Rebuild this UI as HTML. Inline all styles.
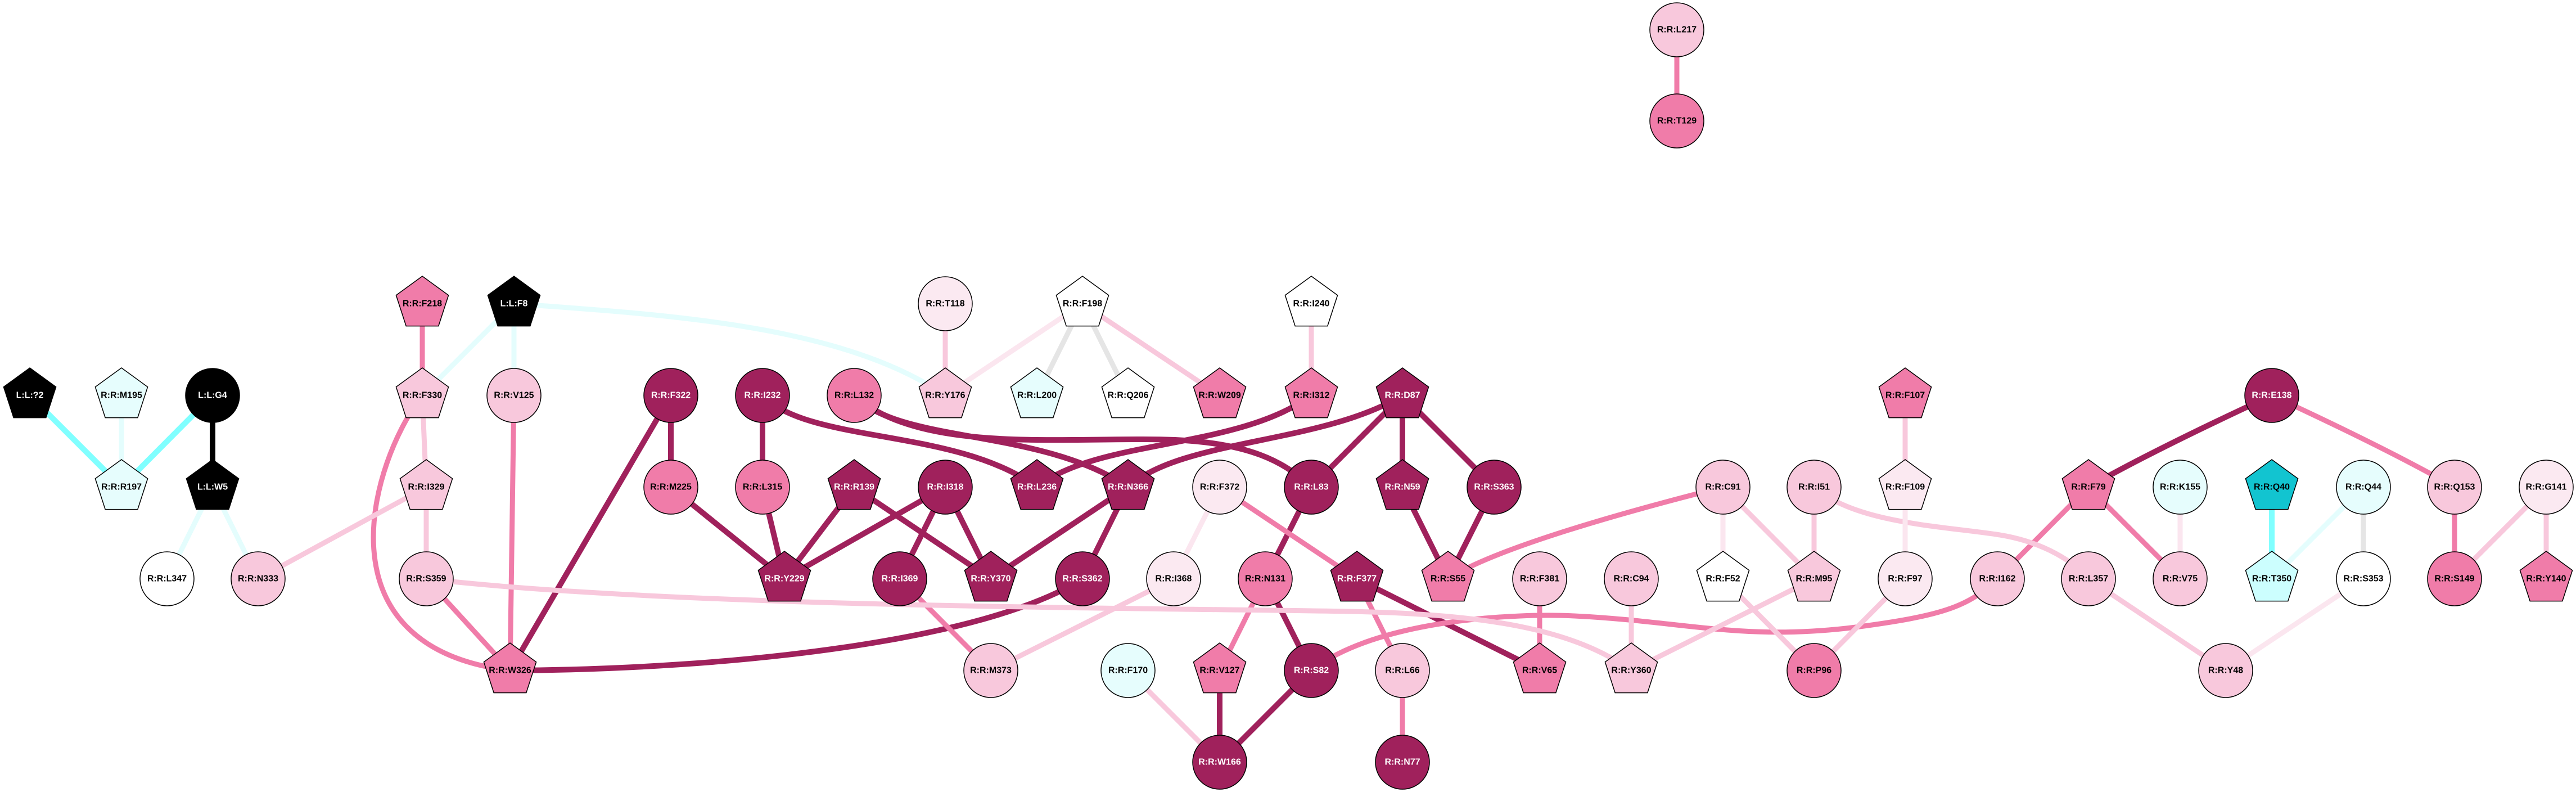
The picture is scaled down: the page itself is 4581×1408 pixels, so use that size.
<!DOCTYPE html>
<html><head><meta charset="utf-8"><style>
html,body{margin:0;padding:0;background:#fff;}
svg{display:block;}
text{font-family:"Liberation Sans",Arial,sans-serif;font-weight:bold;font-size:16px;text-anchor:middle;dominant-baseline:central;}
</style></head><body>
<svg width="4581" height="1408" viewBox="0 0 4581 1408" xmlns="http://www.w3.org/2000/svg">
<g fill="none" stroke-linecap="butt">
<!-- dark edges -->
<g stroke="#a0215c" stroke-width="10">
<line x1="1193" y1="703" x2="1193" y2="866"/>
<line x1="1193" y1="703" x2="907" y2="1192"/>
<line x1="1193" y1="866" x2="1395" y2="1029"/>
<line x1="1356" y1="703" x2="1356" y2="866"/>
<line x1="1356" y1="866" x2="1395" y2="1029"/>
<line x1="1519" y1="866" x2="1395" y2="1029"/>
<line x1="1681" y1="866" x2="1395" y2="1029"/>
<line x1="1519" y1="866" x2="1762" y2="1029"/>
<line x1="1681" y1="866" x2="1600" y2="1029"/>
<line x1="1681" y1="866" x2="1762" y2="1029"/>
<line x1="2006" y1="866" x2="1762" y2="1029"/>
<line x1="2006" y1="866" x2="1925" y2="1029"/>
<line x1="2332" y1="866" x2="2250" y2="1029"/>
<line x1="2250" y1="1029" x2="2332" y2="1192"/>
<line x1="2169" y1="1192" x2="2169" y2="1355"/>
<line x1="2332" y1="1192" x2="2169" y2="1355"/>
<line x1="2494" y1="703" x2="2332" y2="866"/>
<line x1="2494" y1="703" x2="2494" y2="866"/>
<line x1="2494" y1="703" x2="2657" y2="866"/>
<line x1="2494" y1="866" x2="2575" y2="1029"/>
<line x1="2657" y1="866" x2="2575" y2="1029"/>
<line x1="2413" y1="1029" x2="2738" y2="1192"/>
<path d="M1356,703 C1440,790 1700,760 1844,866"/>
<path d="M1519,703 C1600,790 1850,760 2006,866"/>
<path d="M1519,703 C1640,810 1900,775 2090,782 C2220,788 2285,820 2332,866"/>
<path d="M1844,866 C1950,780 2200,800 2332,703"/>
<path d="M2006,866 C2100,780 2350,790 2494,703"/>
<path d="M1925,1029 C1750,1140 1300,1190 907,1192"/>
<path d="M4040,703 Q3830,800 3714,866"/>
</g>
<!-- mid pink edges -->
<g stroke="#f07ca9" stroke-width="9">
<line x1="751" y1="540" x2="751" y2="703"/>
<line x1="914" y1="703" x2="907" y2="1192"/>
<line x1="758" y1="1029" x2="907" y2="1192"/>
<line x1="1600" y1="1029" x2="1762" y2="1192"/>
<line x1="2169" y1="866" x2="2413" y2="1029"/>
<line x1="2250" y1="1029" x2="2169" y2="1192"/>
<line x1="2413" y1="1029" x2="2494" y2="1192"/>
<line x1="2494" y1="1192" x2="2494" y2="1355"/>
<line x1="2738" y1="1029" x2="2738" y2="1192"/>
<line x1="3714" y1="866" x2="3552" y2="1029"/>
<line x1="3714" y1="866" x2="3877" y2="1029"/>
<line x1="4365" y1="866" x2="4365" y2="1029"/>
<line x1="2982" y1="53" x2="2982" y2="215"/>
<path d="M751,703 C660,820 560,1150 907,1192"/>
<path d="M3064,866 C2850,920 2650,980 2575,1029"/>
<path d="M2332,1192 C2450,1100 2700,1090 2800,1095 C3000,1105 3100,1140 3300,1115 C3450,1095 3500,1080 3552,1029"/>
<path d="M4040,703 Q4250,800 4365,866"/>
</g>
<!-- light pink edges -->
<g stroke="#f8c8dc" stroke-width="9">
<line x1="751" y1="703" x2="758" y2="866"/>
<line x1="758" y1="866" x2="758" y2="1029"/>
<line x1="758" y1="866" x2="459" y2="1029"/>
<line x1="1681" y1="540" x2="1681" y2="703"/>
<line x1="1925" y1="540" x2="2169" y2="703"/>
<line x1="2087" y1="1029" x2="1762" y2="1192"/>
<line x1="2006" y1="1192" x2="2169" y2="1355"/>
<line x1="2332" y1="540" x2="2332" y2="703"/>
<line x1="3064" y1="866" x2="3226" y2="1029"/>
<line x1="3226" y1="866" x2="3226" y2="1029"/>
<line x1="3388" y1="703" x2="3388" y2="866"/>
<line x1="2901" y1="1029" x2="2901" y2="1192"/>
<line x1="3226" y1="1029" x2="2901" y2="1192"/>
<line x1="3064" y1="1029" x2="3226" y2="1192"/>
<line x1="3388" y1="1029" x2="3226" y2="1192"/>
<line x1="3714" y1="1029" x2="3958" y2="1192"/>
<line x1="4528" y1="866" x2="4365" y2="1029"/>
<line x1="4528" y1="866" x2="4528" y2="1029"/>
<path d="M758,1029 C1200,1080 2000,1080 2400,1087 C2650,1092 2800,1120 2901,1192"/>
<path d="M3226,866 C3300,930 3450,935 3550,950 C3620,960 3680,990 3714,1029"/>
</g>
<!-- very light pink edges -->
<g stroke="#fbe6ef" stroke-width="9">
<line x1="1925" y1="540" x2="1681" y2="703"/>
<line x1="2169" y1="866" x2="2087" y2="1029"/>
<line x1="3064" y1="866" x2="3064" y2="1029"/>
<line x1="3388" y1="866" x2="3388" y2="1029"/>
<line x1="3877" y1="866" x2="3877" y2="1029"/>
<line x1="4203" y1="1029" x2="3958" y2="1192"/>
</g>
<!-- gray -->
<g stroke="#e5e5e5" stroke-width="9">
<line x1="1925" y1="540" x2="1844" y2="703"/>
<line x1="1925" y1="540" x2="2006" y2="703"/>
<line x1="4203" y1="866" x2="4203" y2="1029"/>
</g>
<!-- cyan -->
<g stroke="#80ffff" stroke-width="10">
<line x1="53" y1="703" x2="216" y2="866"/>
<line x1="378" y1="703" x2="216" y2="866"/>
<line x1="4040" y1="866" x2="4040" y2="1029"/>
</g>
<g stroke="#e4fdfd" stroke-width="9">
<line x1="216" y1="703" x2="216" y2="866"/>
<line x1="378" y1="866" x2="297" y2="1029"/>
<line x1="378" y1="866" x2="459" y2="1029"/>
<line x1="914" y1="540" x2="751" y2="703"/>
<line x1="914" y1="540" x2="914" y2="703"/>
<line x1="4203" y1="866" x2="4040" y2="1029"/>
<path d="M914,540 C1200,560 1500,580 1681,703"/>
</g>
<line x1="378" y1="703" x2="378" y2="866" stroke="#000" stroke-width="10"/>
</g>

<defs><polygon id="p" points="0,-49 46.6,-15.1 28.8,39.6 -28.8,39.6 -46.6,-15.1"/></defs>
<g stroke="#000" stroke-width="1.5">
<!-- pentagons -->
<use href="#p" x="53" y="703" fill="#000"/>
<use href="#p" x="216" y="703" fill="#e6fdfd"/>
<use href="#p" x="216" y="866" fill="#e6fdfd"/>
<use href="#p" x="378" y="866" fill="#000"/>
<use href="#p" x="751" y="540" fill="#f07ca9"/>
<use href="#p" x="914" y="540" fill="#000"/>
<use href="#p" x="751" y="703" fill="#f8c8dc"/>
<use href="#p" x="758" y="866" fill="#f8c8dc"/>
<use href="#p" x="907" y="1192" fill="#f07ca9"/>
<use href="#p" x="1925" y="540" fill="#fff"/>
<use href="#p" x="1681" y="703" fill="#f8c8dc"/>
<use href="#p" x="1844" y="703" fill="#e6fdfd"/>
<use href="#p" x="2006" y="703" fill="#fff"/>
<use href="#p" x="2169" y="703" fill="#f07ca9"/>
<use href="#p" x="1519" y="866" fill="#a0215c"/>
<use href="#p" x="1844" y="866" fill="#a0215c"/>
<use href="#p" x="2006" y="866" fill="#a0215c"/>
<use href="#p" x="1395" y="1029" fill="#a0215c"/>
<use href="#p" x="1762" y="1029" fill="#a0215c"/>
<use href="#p" x="2169" y="1192" fill="#f07ca9"/>
<use href="#p" x="2332" y="540" fill="#fff"/>
<use href="#p" x="2332" y="703" fill="#f07ca9"/>
<use href="#p" x="2494" y="703" fill="#a0215c"/>
<use href="#p" x="2494" y="866" fill="#a0215c"/>
<use href="#p" x="3388" y="703" fill="#f07ca9"/>
<use href="#p" x="3388" y="866" fill="#fbe9f1"/>
<use href="#p" x="2413" y="1029" fill="#a0215c"/>
<use href="#p" x="2575" y="1029" fill="#f07ca9"/>
<use href="#p" x="3064" y="1029" fill="#fff"/>
<use href="#p" x="3226" y="1029" fill="#f8c8dc"/>
<use href="#p" x="2738" y="1192" fill="#f07ca9"/>
<use href="#p" x="2901" y="1192" fill="#f8c8dc"/>
<use href="#p" x="3714" y="866" fill="#f07ca9"/>
<use href="#p" x="4040" y="866" fill="#12c4d0"/>
<use href="#p" x="4040" y="1029" fill="#ccfefe"/>
<use href="#p" x="4528" y="1029" fill="#f07ca9"/>
<!-- circles -->
<circle cx="378" cy="703" r="48" fill="#000"/>
<circle cx="297" cy="1029" r="48" fill="#fff"/>
<circle cx="459" cy="1029" r="48" fill="#f8c8dc"/>
<circle cx="914" cy="703" r="48" fill="#f8c8dc"/>
<circle cx="758" cy="1029" r="48" fill="#f8c8dc"/>
<circle cx="1681" cy="540" r="48" fill="#fbe9f1"/>
<circle cx="1193" cy="703" r="48" fill="#a0215c"/>
<circle cx="1356" cy="703" r="48" fill="#a0215c"/>
<circle cx="1519" cy="703" r="48" fill="#f07ca9"/>
<circle cx="1193" cy="866" r="48" fill="#f07ca9"/>
<circle cx="1356" cy="866" r="48" fill="#f07ca9"/>
<circle cx="1681" cy="866" r="48" fill="#a0215c"/>
<circle cx="2169" cy="866" r="48" fill="#fbe9f1"/>
<circle cx="1600" cy="1029" r="48" fill="#a0215c"/>
<circle cx="1925" cy="1029" r="48" fill="#a0215c"/>
<circle cx="2087" cy="1029" r="48" fill="#fbe9f1"/>
<circle cx="2250" cy="1029" r="48" fill="#f07ca9"/>
<circle cx="1762" cy="1192" r="48" fill="#f8c8dc"/>
<circle cx="2006" cy="1192" r="48" fill="#e6fdfd"/>
<circle cx="2169" cy="1355" r="48" fill="#a0215c"/>
<circle cx="2332" cy="866" r="48" fill="#a0215c"/>
<circle cx="2657" cy="866" r="48" fill="#a0215c"/>
<circle cx="3064" cy="866" r="48" fill="#f8c8dc"/>
<circle cx="3226" cy="866" r="48" fill="#f8c8dc"/>
<circle cx="2738" cy="1029" r="48" fill="#f8c8dc"/>
<circle cx="2901" cy="1029" r="48" fill="#f8c8dc"/>
<circle cx="3388" cy="1029" r="48" fill="#fbe9f1"/>
<circle cx="2332" cy="1192" r="48" fill="#a0215c"/>
<circle cx="2494" cy="1192" r="48" fill="#f8c8dc"/>
<circle cx="3226" cy="1192" r="48" fill="#f07ca9"/>
<circle cx="2494" cy="1355" r="48" fill="#a0215c"/>
<circle cx="4040" cy="703" r="48" fill="#a0215c"/>
<circle cx="3877" cy="866" r="48" fill="#e6fdfd"/>
<circle cx="4203" cy="866" r="48" fill="#e6fdfd"/>
<circle cx="4365" cy="866" r="48" fill="#f8c8dc"/>
<circle cx="4528" cy="866" r="48" fill="#fbe9f1"/>
<circle cx="3552" cy="1029" r="48" fill="#f8c8dc"/>
<circle cx="3714" cy="1029" r="48" fill="#f8c8dc"/>
<circle cx="3877" cy="1029" r="48" fill="#f8c8dc"/>
<circle cx="4203" cy="1029" r="48" fill="#fff"/>
<circle cx="4365" cy="1029" r="48" fill="#f07ca9"/>
<circle cx="3958" cy="1192" r="48" fill="#f8c8dc"/>
<circle cx="2982" cy="53" r="48" fill="#f8c8dc"/>
<circle cx="2982" cy="215" r="48" fill="#f07ca9"/>
</g>
<!-- labels -->
<g fill="#fff">
<text x="53" y="703">L:L:?2</text>
<text x="378" y="703">L:L:G4</text>
<text x="378" y="866">L:L:W5</text>
<text x="914" y="540">L:L:F8</text>
<text x="1193" y="703">R:R:F322</text>
<text x="1356" y="703">R:R:I232</text>
<text x="1519" y="866">R:R:R139</text>
<text x="1681" y="866">R:R:I318</text>
<text x="1844" y="866">R:R:L236</text>
<text x="2006" y="866">R:R:N366</text>
<text x="1395" y="1029">R:R:Y229</text>
<text x="1600" y="1029">R:R:I369</text>
<text x="1762" y="1029">R:R:Y370</text>
<text x="1925" y="1029">R:R:S362</text>
<text x="2169" y="1355">R:R:W166</text>
<text x="2494" y="703">R:R:D87</text>
<text x="2332" y="866">R:R:L83</text>
<text x="2494" y="866">R:R:N59</text>
<text x="2657" y="866">R:R:S363</text>
<text x="2413" y="1029">R:R:F377</text>
<text x="2332" y="1192">R:R:S82</text>
<text x="2494" y="1355">R:R:N77</text>
<text x="4040" y="703">R:R:E138</text>
</g>
<g fill="#000">
<text x="216" y="703">R:R:M195</text>
<text x="216" y="866">R:R:R197</text>
<text x="297" y="1029">R:R:L347</text>
<text x="459" y="1029">R:R:N333</text>
<text x="751" y="540">R:R:F218</text>
<text x="751" y="703">R:R:F330</text>
<text x="914" y="703">R:R:V125</text>
<text x="758" y="866">R:R:I329</text>
<text x="758" y="1029">R:R:S359</text>
<text x="907" y="1192">R:R:W326</text>
<text x="1681" y="540">R:R:T118</text>
<text x="1925" y="540">R:R:F198</text>
<text x="1519" y="703">R:R:L132</text>
<text x="1681" y="703">R:R:Y176</text>
<text x="1844" y="703">R:R:L200</text>
<text x="2006" y="703">R:R:Q206</text>
<text x="2169" y="703">R:R:W209</text>
<text x="1193" y="866">R:R:M225</text>
<text x="1356" y="866">R:R:L315</text>
<text x="2169" y="866">R:R:F372</text>
<text x="2087" y="1029">R:R:I368</text>
<text x="2250" y="1029">R:R:N131</text>
<text x="1762" y="1192">R:R:M373</text>
<text x="2006" y="1192">R:R:F170</text>
<text x="2169" y="1192">R:R:V127</text>
<text x="2332" y="540">R:R:I240</text>
<text x="2332" y="703">R:R:I312</text>
<text x="3388" y="703">R:R:F107</text>
<text x="3064" y="866">R:R:C91</text>
<text x="3226" y="866">R:R:I51</text>
<text x="3388" y="866">R:R:F109</text>
<text x="2575" y="1029">R:R:S55</text>
<text x="2738" y="1029">R:R:F381</text>
<text x="2901" y="1029">R:R:C94</text>
<text x="3064" y="1029">R:R:F52</text>
<text x="3226" y="1029">R:R:M95</text>
<text x="3388" y="1029">R:R:F97</text>
<text x="2494" y="1192">R:R:L66</text>
<text x="2738" y="1192">R:R:V65</text>
<text x="2901" y="1192">R:R:Y360</text>
<text x="3226" y="1192">R:R:P96</text>
<text x="3714" y="866">R:R:F79</text>
<text x="3877" y="866">R:R:K155</text>
<text x="4040" y="866">R:R:Q40</text>
<text x="4203" y="866">R:R:Q44</text>
<text x="4365" y="866">R:R:Q153</text>
<text x="4528" y="866">R:R:G141</text>
<text x="3552" y="1029">R:R:I162</text>
<text x="3714" y="1029">R:R:L357</text>
<text x="3877" y="1029">R:R:V75</text>
<text x="4040" y="1029">R:R:T350</text>
<text x="4203" y="1029">R:R:S353</text>
<text x="4365" y="1029">R:R:S149</text>
<text x="4528" y="1029">R:R:Y140</text>
<text x="3958" y="1192">R:R:Y48</text>
<text x="2982" y="53">R:R:L217</text>
<text x="2982" y="215">R:R:T129</text>
</g>
</svg>
</body></html>
